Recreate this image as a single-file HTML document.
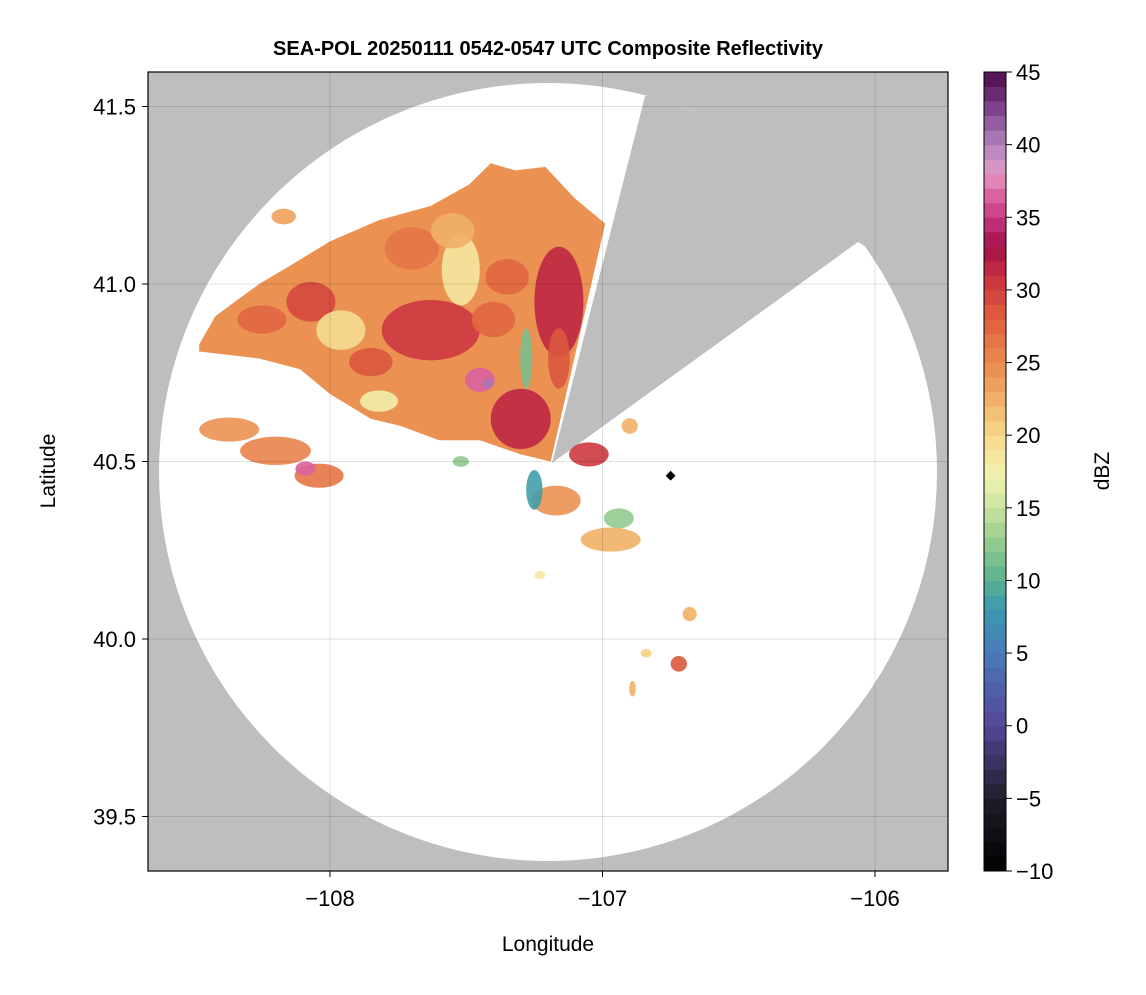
<!DOCTYPE html>
<html><head><meta charset="utf-8"><style>
body{margin:0;background:#fff;width:1146px;height:990px;overflow:hidden}
svg text{font-family:"Liberation Sans",sans-serif;fill:#000}
</style></head><body>
<svg id="chart" width="1146" height="990" xmlns="http://www.w3.org/2000/svg">
<defs><clipPath id="pc"><rect x="148" y="72" width="800" height="799"/></clipPath>
<clipPath id="cc"><circle cx="548" cy="472" r="389"/></clipPath>
<filter id="soft"><feGaussianBlur stdDeviation="3"/></filter></defs>
<rect x="148" y="72" width="800" height="799" fill="#bebebe"/>
<g clip-path="url(#pc)"><circle cx="548" cy="472" r="389" fill="#fff"/>
<path d="M552,463 L645,96 L948,72 L948,300 L858,242 Z" fill="#bebebe" clip-path="url(#cc)"/></g>
<g id="echoes" clip-path="url(#pc)"></g>
<g id="grid"></g>
<rect x="148" y="72" width="800" height="799" fill="none" stroke="#000" stroke-width="1.2"/>
<g id="axes"></g>
<g id="cbar"></g>
<text x="548" y="55" text-anchor="middle" font-size="20" font-weight="bold">SEA-POL 20250111 0542-0547 UTC Composite Reflectivity</text>
<text x="548" y="951" text-anchor="middle" font-size="21">Longitude</text>
<text transform="translate(55,471) rotate(-90)" text-anchor="middle" font-size="21">Latitude</text>
<text transform="translate(1109,471) rotate(-90)" text-anchor="middle" font-size="21">dBZ</text>
</svg>
<script>
const lonTicks=[-108,-107,-106];
const latTicks=[39.5,40.0,40.5,41.0,41.5];
const cbTicks=[-10,-5,0,5,10,15,20,25,30,35,40,45];
const mainLon=[-108.48,-108.42,-108.26,-108.15,-108.0,-107.82,-107.63,-107.49,-107.41,-107.32,-107.21,-107.10,-106.99,-107.19,-107.30,-107.45,-107.60,-107.74,-107.85,-108.0,-108.11,-108.26,-108.48];
const mainLat=[40.83,40.91,41.0,41.05,41.12,41.18,41.22,41.28,41.34,41.32,41.33,41.24,41.17,40.50,40.52,40.56,40.56,40.60,40.62,40.69,40.76,40.79,40.81];
const mainDbz=24;
const blobLon=[-108.37,-108.20,-108.04,-108.09,-108.17,-107.63,-107.16,-107.30,-108.07,-107.16,-107.96,-107.52,-107.82,-107.28,-107.45,-107.42,-107.05,-107.17,-106.97,-106.94,-107.25,-106.90,-107.52,-106.68,-106.72,-106.84,-106.89,-107.23,-107.35,-107.70,-107.40,-107.85,-108.25,-107.55];
const blobLat=[40.59,40.53,40.46,40.48,41.19,40.87,40.95,40.62,40.95,40.79,40.87,41.04,40.67,40.79,40.73,40.72,40.52,40.39,40.28,40.34,40.42,40.60,40.50,40.07,39.93,39.96,39.86,40.18,41.02,41.10,40.90,40.78,40.90,41.15];
const blobRx=[.11,.13,.09,.037,.045,.18,.09,.11,.09,.04,.09,.07,.07,.022,.055,.02,.073,.09,.11,.055,.03,.03,.03,.026,.03,.02,.012,.02,.08,.1,.08,.08,.09,.08];
const blobRy=[.034,.04,.034,.02,.022,.085,.155,.085,.056,.085,.056,.1,.03,.085,.034,.014,.034,.042,.034,.028,.056,.022,.015,.02,.022,.012,.022,.012,.05,.06,.05,.04,.04,.05];
const blobDbz=[24,25,26,36,23,30,31,31,29,28,19,18,17,11,36,40,30,24,22,12,8,22,12,22,28,20,22,18,27,26,27,28,27,22];
const markerLon=-106.75, markerLat=40.46;
const X=lon=>330+(lon+108)*272.5;
const Y=lat=>284-(lat-41)*355;
const CB=v=>871-(v+10)*(799/55);
const stops=[[-10,[0,0,0]],[-5,[30,30,42]],[0,[85,70,150]],[5,[74,122,184]],[8,[58,152,176]],[10,[90,176,143]],[13,[156,207,143]],[15,[200,227,160]],[17,[240,242,176]],[19,[247,227,154]],[21,[244,201,122]],[23,[238,168,96]],[25,[234,138,78]],[28,[224,96,62]],[31,[200,48,64]],[33,[160,16,72]],[35,[200,56,130]],[37,[224,112,168]],[38,[227,156,200]],[40,[176,132,188]],[42,[138,78,152]],[45,[74,10,74]]];
function col(v){v=Math.floor(v)+0.5;for(let i=0;i<stops.length-1;i++){const[a,ca]=stops[i],[b,cb]=stops[i+1];if(v>=a&&v<=b){const t=(v-a)/(b-a);return`rgb(${ca.map((c,j)=>Math.round(c+(cb[j]-c)*t)).join(',')})`}}return v<-10?'#000':'#4a0a4a'}
const NS='http://www.w3.org/2000/svg';
function mk(t,a,p){const e=document.createElementNS(NS,t);for(const k in a)e.setAttribute(k,a[k]);p.appendChild(e);return e}
const eg=document.getElementById('echoes');
const poly=mk('polygon',{points:mainLon.map((l,i)=>X(l)+','+Y(mainLat[i])).join(' '),fill:col(mainDbz)},eg);


blobLon.forEach((l,i)=>{const e=mk('ellipse',{cx:X(l),cy:Y(blobLat[i]),rx:blobRx[i]*272.5,ry:blobRy[i]*355,fill:col(blobDbz[i]),'fill-opacity':0.9},eg);

});
const mkr=mk('rect',{x:X(markerLon)-3.5,y:Y(markerLat)-3.5,width:7,height:7,fill:'#000',transform:`rotate(45 ${X(markerLon)} ${Y(markerLat)})`},eg);


const gg=document.getElementById('grid'),ax=document.getElementById('axes');
lonTicks.forEach(v=>{const x=X(v);mk('line',{x1:x,x2:x,y1:72,y2:871,stroke:'rgba(0,0,0,0.12)'},gg);mk('line',{x1:x,x2:x,y1:871,y2:877,stroke:'#000'},ax);
const t=mk('text',{x:x,y:906,'text-anchor':'middle','font-size':22},ax);t.textContent='\u2212'+Math.abs(v);

});
latTicks.forEach(v=>{const y=Y(v);mk('line',{x1:148,x2:948,y1:y,y2:y,stroke:'rgba(0,0,0,0.12)'},gg);mk('line',{x1:142,x2:148,y1:y,y2:y,stroke:'#000'},ax);
const t=mk('text',{x:136,y:y+8,'text-anchor':'end','font-size':22},ax);t.textContent=v.toFixed(1);

});
const cg=document.getElementById('cbar');
for(let v=-10;v<45;v++){mk('rect',{x:984,y:CB(v+1),width:22,height:CB(v)-CB(v+1)+0.5,fill:col(v)},cg);}
mk('rect',{x:984,y:72,width:22,height:799,fill:'none',stroke:'#000','stroke-width':1},cg);
cbTicks.forEach(v=>{const y=CB(v);mk('line',{x1:1006,x2:1012,y1:y,y2:y,stroke:'#000'},cg);
const t=mk('text',{x:1016,y:y+8,'font-size':22},cg);t.textContent=v<0?'\u2212'+Math.abs(v):v;

});
</script>
</body></html>
